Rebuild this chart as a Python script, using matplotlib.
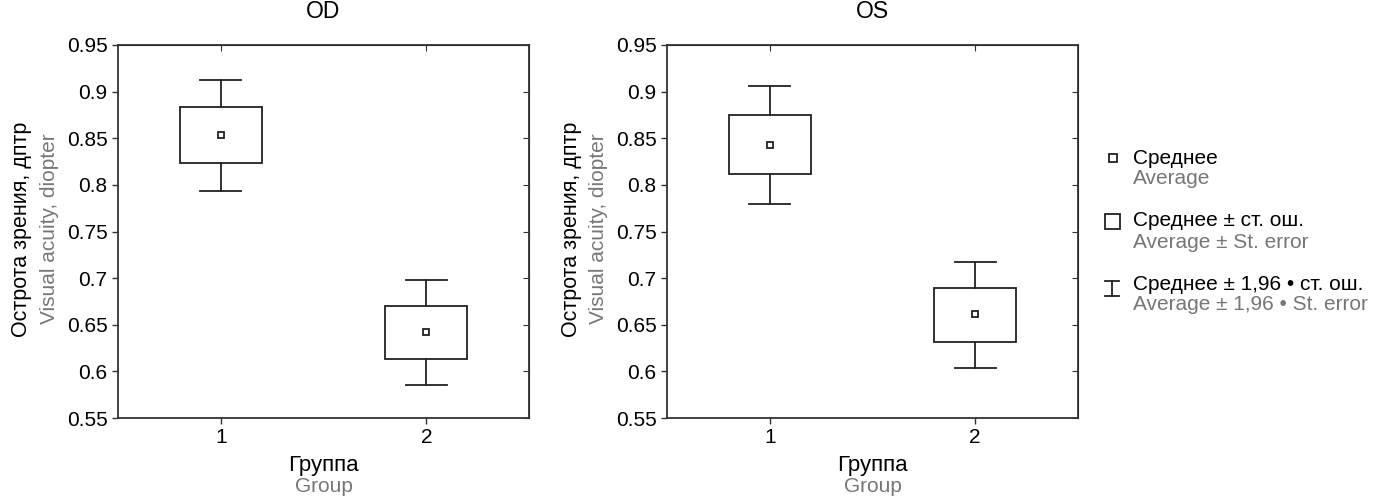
import matplotlib.pyplot as plt
from matplotlib.patches import Rectangle
from matplotlib.ticker import FuncFormatter

plt.rcParams['font.family'] = ['Liberation Sans', 'DejaVu Sans']

# данные
groups = [1, 2]
panels = ["OD", "OS"]
od_mean = [0.853, 0.642]
od_se_lo = [0.823, 0.613]
od_se_hi = [0.883, 0.670]
od_ci_lo = [0.793, 0.585]
od_ci_hi = [0.913, 0.698]
os_mean = [0.843, 0.661]
os_se_lo = [0.812, 0.632]
os_se_hi = [0.875, 0.689]
os_ci_lo = [0.780, 0.604]
os_ci_hi = [0.906, 0.717]
y_ticks = [0.55, 0.6, 0.65, 0.7, 0.75, 0.8, 0.85, 0.9, 0.95]

GRAY = '#777777'
INK = '#222222'
W, H = 1374, 496
FS = 15

fig = plt.figure(figsize=(W / 100, H / 100), dpi=100)

def px(x, y):
    return x / W, 1 - y / H

def draw_panel(left_px, title, mean, se_lo, se_hi, ci_lo, ci_hi):
    ax = fig.add_axes([left_px / W, 1 - 418 / H, 411 / W, 373 / H])
    for g, m, sl, sh, cl, ch in zip(groups, mean, se_lo, se_hi, ci_lo, ci_hi):
        ax.add_patch(Rectangle((g - 0.2, sl), 0.4, sh - sl, fill=False, lw=1.3, ec=INK))
        ax.plot([g, g], [sh, ch], color=INK, lw=1.3)
        ax.plot([g, g], [cl, sl], color=INK, lw=1.3)
        ax.plot([g - 0.1, g + 0.1], [ch, ch], color=INK, lw=1.3)
        ax.plot([g - 0.1, g + 0.1], [cl, cl], color=INK, lw=1.3)
        ax.plot([g], [m], marker='s', ms=5, mfc='white', mec=INK, mew=1.3)
    ax.set_xlim(0.5, 2.5)
    ax.set_ylim(0.55, 0.95)
    ax.set_xticks(groups)
    ax.set_yticks(y_ticks)
    ax.yaxis.set_major_formatter(FuncFormatter(lambda v, p: f"{v:g}"))
    ax.tick_params(labelsize=FS, direction='out', length=4, width=1, color='#333333')
    for s in ax.spines.values():
        s.set_linewidth(1.3)
        s.set_color('#333333')
    # внутренние засечки сверху и справа
    top = ax.secondary_xaxis('top')
    top.set_xticks(groups)
    top.tick_params(direction='in', length=4, labeltop=False, color='#333333')
    right = ax.secondary_yaxis('right')
    right.set_yticks(y_ticks)
    right.tick_params(direction='in', length=4, labelright=False, color='#333333')
    cx = left_px + 411 / 2
    fig.text(*px(cx, 12), title, ha='center', va='center', fontsize=16.5)
    fig.text(*px(cx, 466), "Группа", ha='center', va='center', fontsize=16)
    fig.text(*px(cx, 487), "Group", ha='center', va='center', fontsize=FS, color=GRAY)
    fig.text(*px(left_px - 96, 229), "Острота зрения, дптр", ha='center', va='center',
             rotation=90, fontsize=15.5)
    fig.text(*px(left_px - 68, 229), "Visual acuity, diopter", ha='center', va='center',
             rotation=90, fontsize=FS, color=GRAY)
    return ax

draw_panel(118, panels[0], od_mean, od_se_lo, od_se_hi, od_ci_lo, od_ci_hi)
draw_panel(667, panels[1], os_mean, os_se_lo, os_se_hi, os_ci_lo, os_ci_hi)

# легенда
lax = fig.add_axes([0, 0, 1, 1])
lax.set_xlim(0, W)
lax.set_ylim(H, 0)
lax.axis('off')
lax.plot([1113], [158], marker='s', ms=5.5, mfc='white', mec=INK, mew=1.3)
lax.add_patch(Rectangle((1105, 214), 15, 15, fill=False, lw=1.3, ec=INK))
lax.plot([1112, 1112], [281, 296], color=INK, lw=1.3)
lax.plot([1105, 1119], [281, 281], color=INK, lw=1.3)
lax.plot([1105, 1119], [296, 296], color=INK, lw=1.3)
leg_ru = ["Среднее", "Среднее ± ст. ош.", "Среднее ± 1,96 • ст. ош."]
leg_en = ["Average", "Average ± St. error", "Average ± 1,96 • St. error"]
for i, (ru, en) in enumerate(zip(leg_ru, leg_en)):
    y0 = 158 + i * 63
    lax.text(1133, y0, ru, ha='left', va='center', fontsize=FS)
    lax.text(1133, y0 + 21, en, ha='left', va='center', fontsize=FS, color=GRAY)

fig.savefig("out.png", dpi=100)
